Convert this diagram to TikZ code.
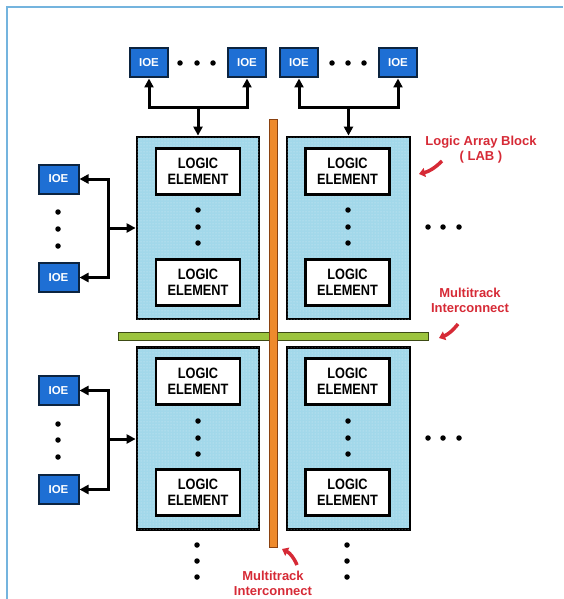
\documentclass[tikz,border=0pt]{standalone}
\usepackage{fontspec}
\setmainfont{Liberation Sans}
\newfontfamily\condfont[FakeStretch=0.85]{Liberation Sans}
\usetikzlibrary{arrows.meta,patterns}
\definecolor{ioeblue}{HTML}{1E6FD4}
\definecolor{ioedark}{HTML}{0C2440}
\definecolor{labcyan}{HTML}{A2D8EA}
\definecolor{orangebar}{HTML}{EE8A2C}
\definecolor{orangedark}{HTML}{8A4210}
\definecolor{greenbar}{HTML}{9CC43E}
\definecolor{greendark}{HTML}{3C4A14}
\definecolor{labelred}{HTML}{D62A36}
\definecolor{frameblue}{HTML}{74B4DE}
\tikzset{
  ioe/.style={draw=ioedark, line width=2pt, fill=ioeblue, minimum width=38pt,
    minimum height=29pt, inner sep=0pt, text=white,
    font=\fontsize{11.5}{12}\selectfont\bfseries},
  lab/.style={draw=black, line width=2.8pt, fill=labcyan,
    postaction={pattern=dots, pattern color=white!55!labcyan},
    minimum height=182pt, inner sep=0pt},
  le/.style={draw=black, line width=2.8pt, fill=white, minimum width=84pt,
    minimum height=46pt, inner sep=0pt, align=center,
    font=\condfont\bfseries\fontsize{15}{15.5}\selectfont},
  conn/.style={line width=3pt, draw=black, -{Triangle[length=9pt,width=9pt]}},
  connboth/.style={line width=3pt, draw=black,
    {Triangle[length=9pt,width=9pt]}-{Triangle[length=9pt,width=9pt]}},
  bigdot/.style={circle, fill=black, inner sep=0pt, minimum size=5.5pt},
  redlabel/.style={text=labelred, align=center,
    font=\fontsize{13}{15}\selectfont\bfseries},
  redarrow/.style={line width=3.5pt, draw=labelred, -{Triangle[length=6pt,width=9pt]}},
}
\begin{document}
\begin{tikzpicture}[x=1pt,y=-1pt]
\useasboundingbox (0,0) rectangle (563,599);
% frame
\draw[frameblue, line width=2pt] (7,599) -- (7,7) -- (563,7);

% interconnect bars
\node[draw=greendark, line width=1pt, fill=greenbar, minimum width=310pt,
  minimum height=8pt, inner sep=0pt] (hbar) at (273,336) {};
\node[draw=orangedark, line width=1pt, fill=orangebar, minimum width=8pt,
  minimum height=427pt, inner sep=0pt] (vbar) at (273,333.5) {};

% LABs
\node[lab, minimum width=122pt] (labA) at (198,228) {};
\node[lab, minimum width=123pt] (labB) at (348.5,228) {};
\node[lab, minimum width=122pt] (labC) at (198,438.5) {};
\node[lab, minimum width=123pt] (labD) at (348.5,438.5) {};

% logic elements
\node[le] (leA1) at (198,171.5) {LOGIC\\ELEMENT};
\node[le] (leA2) at (198,282.5) {LOGIC\\ELEMENT};
\node[le] (leB1) at (347.5,171.5) {LOGIC\\ELEMENT};
\node[le] (leB2) at (347.5,282.5) {LOGIC\\ELEMENT};
\node[le] (leC1) at (198,381.5) {LOGIC\\ELEMENT};
\node[le] (leC2) at (198,492.5) {LOGIC\\ELEMENT};
\node[le] (leD1) at (347.5,381.5) {LOGIC\\ELEMENT};
\node[le] (leD2) at (347.5,492.5) {LOGIC\\ELEMENT};

% dots inside LABs
\foreach \x in {198,348}{
  \foreach \y in {210,227,243,421,438,454}{
    \node[bigdot] at (\x,\y) {};
  }
}

% top IOEs
\node[ioe] (ioeT1) at (149,63) {IOE};
\node[ioe] (ioeT2) at (247,63) {IOE};
\node[ioe] (ioeT3) at (299,63) {IOE};
\node[ioe] (ioeT4) at (398,63) {IOE};
\foreach \x in {180,197,213,332,348,364}{ \node[bigdot] at (\x,63) {}; }

\coordinate (jT1) at (198,108);
\coordinate (jT2) at (348.5,108);
\draw[connboth] (ioeT1.south) |- (jT1) -| (ioeT2.south);
\draw[conn] (jT1) -- (labA.north);
\draw[connboth] (ioeT3.south) |- (jT2) -| (ioeT4.south);
\draw[conn] (jT2) -- (labB.north);

% left IOEs
\node[ioe, minimum width=40pt] (ioeL1) at (58.5,179) {IOE};
\node[ioe, minimum width=40pt] (ioeL2) at (58.5,277.5) {IOE};
\node[ioe, minimum width=40pt] (ioeL3) at (58.5,390.5) {IOE};
\node[ioe, minimum width=40pt] (ioeL4) at (58.5,489.5) {IOE};
\foreach \y in {212,229,246,424,440,457}{ \node[bigdot] at (58,\y) {}; }

\coordinate (jL1) at (108,228);
\coordinate (jL2) at (108,439);
\draw[connboth] (ioeL1.east) -| (jL1) |- (ioeL2.east);
\draw[conn] (jL1) -- (jL1 -| labA.west);
\draw[connboth] (ioeL3.east) -| (jL2) |- (ioeL4.east);
\draw[conn] (jL2) -- (jL2 -| labC.west);

% continuation dots
\foreach \x in {428,443,459}{
  \node[bigdot] at (\x,227) {};
  \node[bigdot] at (\x,438) {};
}
\foreach \x in {197,347}{
  \foreach \y in {545,561,577}{ \node[bigdot] at (\x,\y) {}; }
}

% labels
\node[redlabel] (labLAB) at (481,150) {Logic Array Block\\( LAB )};
\node[redlabel] (labMT1) at (470,300) {Multitrack\\Interconnect};
\node[redlabel] (labMT2) at (273,583) {Multitrack\\Interconnect};

\coordinate (rA0) at (442,161);
\coordinate (rA1) at (419,174);
\coordinate (rB0) at (458,324);
\coordinate (rB1) at (439,338);
\coordinate (rC0) at (297,565);
\coordinate (rC1) at (282,549);
\draw[redarrow] (rA0) to[bend left=15] (rA1);
\draw[redarrow] (rB0) to[bend left=15] (rB1);
\draw[redarrow] (rC0) to[bend right=20] (rC1);
\end{tikzpicture}
\end{document}
